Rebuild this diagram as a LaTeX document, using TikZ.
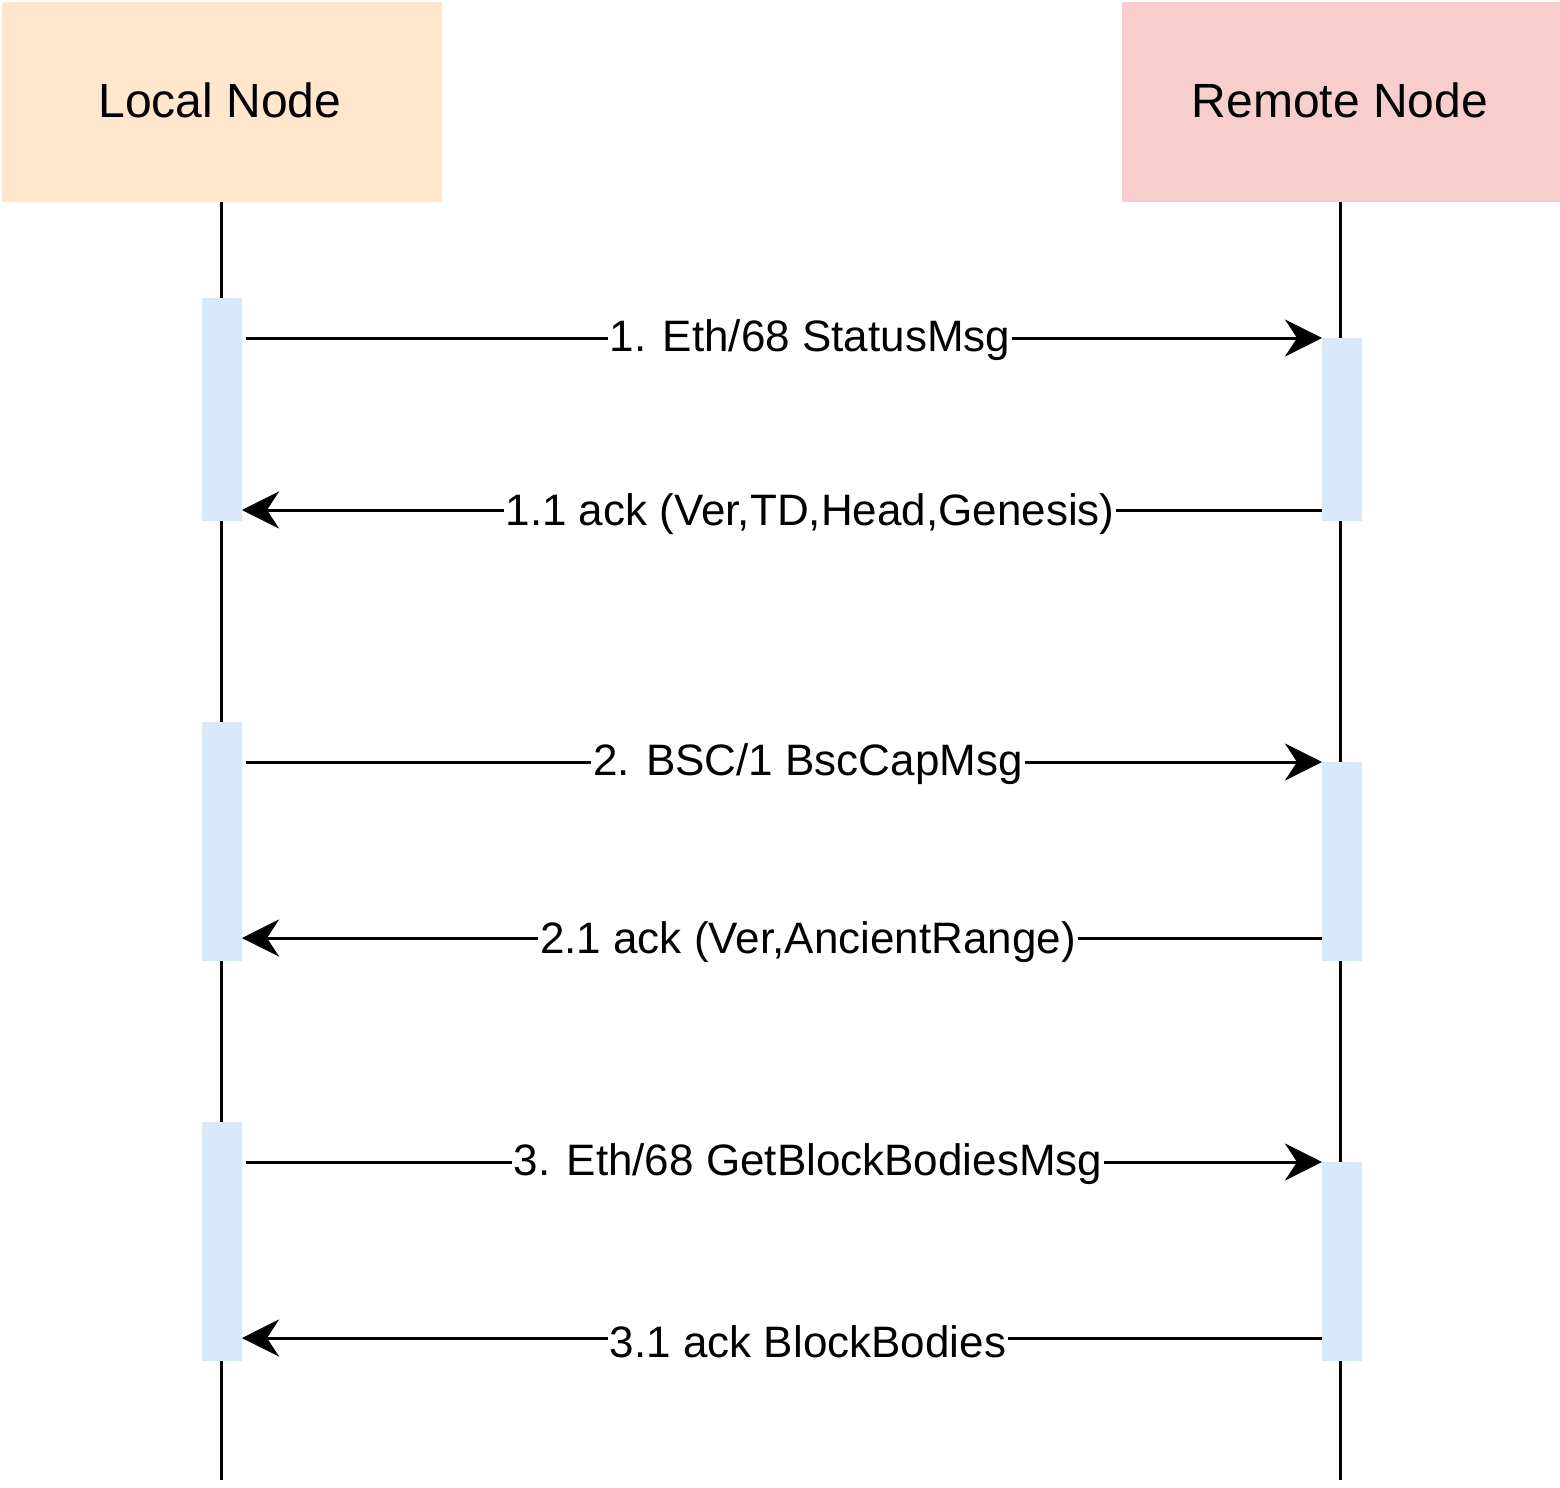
\documentclass[tikz,border=0pt]{standalone}
\usepackage{fontspec}
\setmainfont{Liberation Sans}
\usetikzlibrary{arrows.meta}
\definecolor{peach}{HTML}{FFE6CC}
\definecolor{pinkish}{HTML}{F8CECC}
\definecolor{actblue}{HTML}{DAE8FC}
\begin{document}
\begin{tikzpicture}[x=0.5pt,y=-0.5pt,
  actor/.style={draw=none,inner sep=0pt,font=\fontsize{24}{28}\selectfont},
  act/.style={fill=actblue,draw=none},
  life/.style={line width=1.5pt},
  msg/.style={line width=1.5pt,-{Stealth[length=18.5pt,width=18.5pt,inset=6pt]}},
  lbl/.style={fill=white,inner sep=1pt,font=\fontsize{22}{26}\selectfont}]
\useasboundingbox (0,0) rectangle (1560,1488);
\fill[peach] (2,2) rectangle (442,202);
\fill[pinkish] (1122,2) rectangle (1560,202);
\node[actor] (local) at (220,100) {Local Node};
\node[actor] (remote) at (1340,100) {Remote Node};
\coordinate (ltop) at (221,202);
\coordinate (rtop) at (1340,202);
\coordinate (lend) at (221,1480);
\coordinate (rend) at (1340,1480);
\draw[life] (ltop) -- (lend);
\draw[life] (rtop) -- (rend);
% activations
\fill[act] (202,298) rectangle (242,521);
\fill[act] (202,722) rectangle (242,961);
\fill[act] (202,1122) rectangle (242,1361);
\fill[act] (1322,338) rectangle (1362,521);
\fill[act] (1322,762) rectangle (1362,961);
\fill[act] (1322,1162) rectangle (1362,1361);
% messages
\coordinate (a1s) at (246,338); \coordinate (a1e) at (1322,338);
\coordinate (b1s) at (1322,510); \coordinate (b1e) at (242,510);
\coordinate (a2s) at (246,762); \coordinate (a2e) at (1322,762);
\coordinate (b2s) at (1322,938); \coordinate (b2e) at (242,938);
\coordinate (a3s) at (246,1162); \coordinate (a3e) at (1322,1162);
\coordinate (b3s) at (1322,1338); \coordinate (b3e) at (242,1338);
\draw[msg] (a1s) -- (a1e);
\draw[msg] (b1s) -- (b1e);
\draw[msg] (a2s) -- (a2e);
\draw[msg] (b2s) -- (b2e);
\draw[msg] (a3s) -- (a3e);
\draw[msg] (b3s) -- (b3e);
\node[lbl] (l1) at (810,340) {1. Eth/68 StatusMsg};
\node[lbl] (l11) at (810,514) {1.1 ack (Ver,TD,Head,Genesis)};
\node[lbl] (l2) at (808,764) {2. BSC/1 BscCapMsg};
\node[lbl] (l21) at (808,942) {2.1 ack (Ver,AncientRange)};
\node[lbl] (l3) at (808,1164) {3. Eth/68 GetBlockBodiesMsg};
\node[lbl] (l31) at (808,1342) {3.1 ack BlockBodies};
\end{tikzpicture}
\end{document}
